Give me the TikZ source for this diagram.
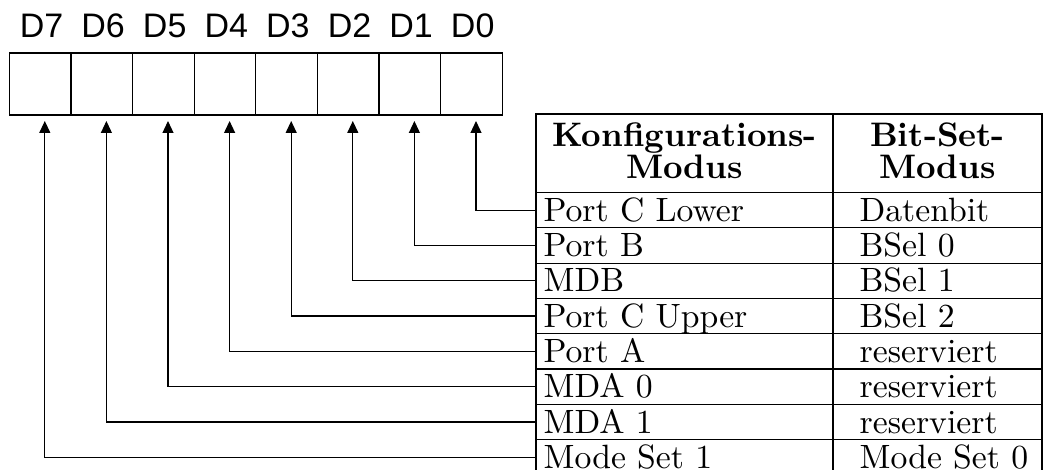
\documentclass[tikz,border=0pt]{standalone}
\usepackage{fontspec}
\setmainfont{lmroman10-regular}[Extension=.otf, BoldFont=lmroman10-bold]
\newfontfamily\helv{Liberation Sans}
\usetikzlibrary{arrows.meta}
\begin{document}
\begin{tikzpicture}[x=1pt,y=-1pt, line width=1.2pt,
  cellbox/.style={draw, minimum width=61.6pt, minimum height=62pt, inner sep=0pt},
  bitlabel/.style={font=\helv\fontsize{34}{40}\selectfont, anchor=base, inner sep=0pt},
  celltext/.style={font=\fontsize{33.7}{40}\selectfont, anchor=base west, inner sep=0pt},
  headtext/.style={font=\bfseries\fontsize{34}{31.5}\selectfont, anchor=base, align=center, inner sep=0pt},
  conn/.style={-{Triangle[width=11pt,length=12pt]}, line width=1.2pt},
  grid/.style={line width=1.2pt}]
\useasboundingbox (0,0) rectangle (1048,470);
% register
\foreach \k/\n in {0/7,1/6,2/5,3/4,4/3,5/2,6/1,7/0}{
  \node[cellbox] (c\n) at ({40.1+61.6*\k},84) {};
  \node[bitlabel] (l\n) at ({41.5+61.6*\k},38) {D\n};
  \coordinate (t\n) at ({44.8+61.6*\k},121);
}
% table
\draw[grid] (536,114) rectangle (1042,476);
\draw[grid] (833,114) -- (833,476);
\draw[grid] (536,192.5) -- (1042,192.5);
\foreach \k in {1,...,7}{
  \draw[grid] (536,{192.5+35.3*\k}) -- (1042,{192.5+35.3*\k});
}
\node[headtext] (h1) at (684.5,178.5) {Konfigurations-\\Modus};
\node[headtext] (h2) at (937.5,178.5) {Bit-Set-\\Modus};
\foreach \k/\a/\b in {0/Port C Lower/Datenbit, 1/Port B/BSel 0, 2/MDB/BSel 1,
  3/Port C Upper/BSel 2, 4/Port A/reserviert, 5/MDA 0/reserviert,
  6/MDA 1/reserviert, 7/Mode Set 1/Mode Set 0}{
  \node[celltext] (k\k) at (543,{192.5+35.3*(\k+1)-6.5}) {\a};
  \node[celltext] (b\k) at (859,{192.5+35.3*(\k+1)-6.5}) {\b};
  \coordinate (r\k) at (536,{192.5+35.3*\k+17.65});
  \draw[conn] (r\k) -| (t\k);
}
\end{tikzpicture}
\end{document}
